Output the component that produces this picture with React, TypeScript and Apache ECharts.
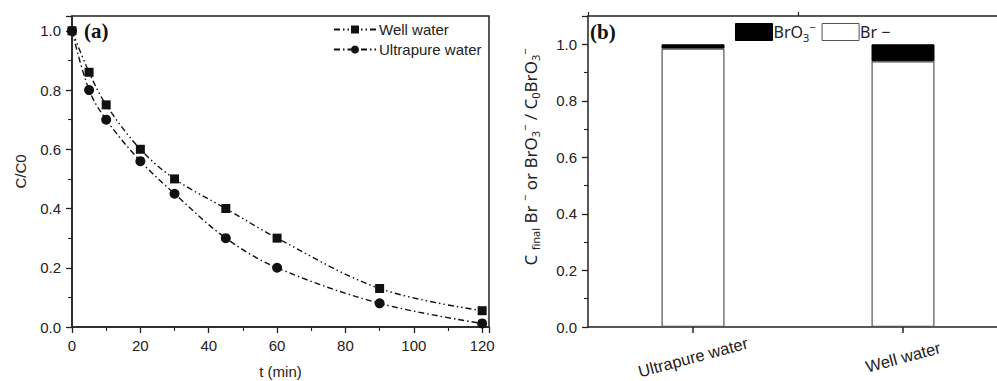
import React, { useEffect, useRef } from "react";
import * as echarts from "echarts";

const timeMin = [0, 5, 10, 20, 30, 45, 60, 90, 120];
const wellWater = [1.0, 0.86, 0.75, 0.6, 0.5, 0.4, 0.3, 0.13, 0.055];
const ultrapureWater = [1.0, 0.8, 0.7, 0.56, 0.45, 0.3, 0.2, 0.08, 0.012];

const waterTypes = ["Ultrapure water", "Well water"];
const brFraction = [0.985, 0.94];
const bro3Fraction = [0.015, 0.06];

const AX = "#222";
const FONT = "Liberation Sans";

export default function App() {
  const ref = useRef<HTMLDivElement>(null);
  useEffect(() => {
    if (!ref.current) return;
    const chart = echarts.init(ref.current, undefined, { renderer: "svg" });
    const axisCommon = {
      axisLine: { show: true, lineStyle: { color: AX, width: 1.5 } },
      axisTick: { show: true, inside: false, length: 6, lineStyle: { color: AX, width: 1.3 } },
      minorTick: { show: true, splitNumber: 2, length: 4, lineStyle: { color: AX, width: 1.1 } },
      splitLine: { show: false },
      minorSplitLine: { show: false },
    };
    const sub = { fontSize: 11, lineHeight: 12, verticalAlign: "bottom", fontFamily: "Noto Sans", color: "#222" };
    const sup = { fontSize: 11, lineHeight: 12, verticalAlign: "top", fontFamily: "Noto Sans", color: "#222" };
    const base = { fontSize: 16, lineHeight: 22, fontFamily: "Noto Sans", color: "#222" };
    const pair = (xs: number[], ys: number[]) => xs.map((x, i) => [x, ys[i]]);
    const tickFmt = (v: number) => (Math.abs(Math.round(v * 5) - v * 5) < 1e-6 ? v.toFixed(1) : "");
    const labelStyle = { fontFamily: FONT, fontSize: 15, color: "#222" };
    const option: any = {
      animation: false,
      backgroundColor: "#fff",
      grid: [
        { left: 72, top: 16, width: 417, height: 311, show: true, borderColor: AX, borderWidth: 1.5, backgroundColor: "transparent", outerBoundsMode: "none", containLabel: false },
        { left: 588, top: 16, width: 420, height: 311, show: false, outerBoundsMode: "none", containLabel: false },
      ],
      legend: [
        {
          data: ["Well water", "Ultrapure water"],
          orient: "vertical",
          left: 333,
          top: 22,
          padding: 0,
          itemWidth: 42,
          itemHeight: 10,
          itemGap: 5,
          textStyle: { ...labelStyle, padding: [0, 0, 0, -2] },
        },
        {
          data: [
            { name: "BrO3-", icon: "rect", itemStyle: { color: "#000", borderColor: "#000", borderWidth: 1 } },
            { name: "Br-", icon: "rect", itemStyle: { color: "#fff", borderColor: "#555", borderWidth: 1 } },
          ],
          orient: "horizontal",
          left: 735,
          top: 21,
          padding: 0,
          itemWidth: 37,
          itemHeight: 17,
          itemGap: 6,
          formatter: (name: string) => (name === "BrO3-" ? "{b|BrO}{s|3}{p|−}" : "{b|Br −}"),
          textStyle: {
            padding: [0, 0, 0, -4],
            rich: { b: base, s: sub, p: sup },
          },
        },
      ],
      xAxis: [
        {
          type: "value",
          gridIndex: 0,
          min: 0,
          max: 122,
          interval: 20,
          ...axisCommon,
          axisLabel: {
            ...labelStyle,
            margin: 11,
            showMaxLabel: false,
            formatter: (v: number) => (v % 20 === 0 ? String(v) : ""),
          },
          name: "t (min)",
          nameLocation: "middle",
          nameGap: 37,
          nameTextStyle: labelStyle,
        },
        {
          type: "category",
          gridIndex: 1,
          data: waterTypes,
          axisLine: { show: true, lineStyle: { color: AX, width: 1.5 } },
          axisTick: { show: true, alignWithLabel: true, length: 6, lineStyle: { color: AX, width: 1.5 } },
          axisLabel: {
            ...labelStyle,
            fontSize: 16.5,
            rotate: 15,
            align: "center",
            verticalAlign: "middle",
            margin: 30,
          },
          splitLine: { show: false },
        },
        {
          type: "category",
          gridIndex: 1,
          data: waterTypes,
          axisLine: { show: false },
          axisTick: { show: true, alignWithLabel: false, length: 4, lineStyle: { color: AX, width: 1.2 } },
          axisLabel: { show: false },
          splitLine: { show: false },
        },
        {
          type: "category",
          gridIndex: 1,
          position: "top",
          data: waterTypes,
          axisLine: { show: true, lineStyle: { color: AX, width: 1.5 } },
          axisTick: { show: false },
          axisLabel: { show: false },
          splitLine: { show: false },
        },
      ],
      yAxis: [
        {
          type: "value",
          gridIndex: 0,
          min: 0,
          max: 1.05,
          interval: 0.2,
          ...axisCommon,
          axisLabel: { ...labelStyle, margin: 11, showMaxLabel: false, formatter: tickFmt },
          name: "C/C0",
          nameLocation: "middle",
          nameRotate: 90,
          nameGap: 44,
          nameTextStyle: labelStyle,
        },
        {
          type: "value",
          gridIndex: 1,
          min: 0,
          max: 1.1,
          interval: 0.2,
          ...axisCommon,
          axisLabel: { ...labelStyle, margin: 11, showMaxLabel: false, formatter: tickFmt },
        },
      ],
      series: [
        {
          name: "Well water",
          type: "line",
          xAxisIndex: 0,
          yAxisIndex: 0,
          data: pair(timeMin, wellWater),
          smooth: 0.35,
          symbol: "rect",
          symbolSize: 9,
          itemStyle: { color: "#111" },
          lineStyle: { color: "#111", width: 1.4, type: [6, 3, 1.5, 3, 1.5, 3] },
        },
        {
          name: "Ultrapure water",
          type: "line",
          xAxisIndex: 0,
          yAxisIndex: 0,
          data: pair(timeMin, ultrapureWater),
          smooth: 0.35,
          symbol: "circle",
          symbolSize: 10,
          itemStyle: { color: "#111" },
          lineStyle: { color: "#111", width: 1.4, type: [6, 3, 1.5, 3] },
        },
        {
          name: "Br-",
          type: "bar",
          xAxisIndex: 1,
          yAxisIndex: 1,
          stack: "total",
          barWidth: 63,
          data: brFraction,
          itemStyle: { color: "#fff", borderColor: "#555", borderWidth: 1.2 },
        },
        {
          name: "BrO3-",
          type: "bar",
          xAxisIndex: 1,
          yAxisIndex: 1,
          stack: "total",
          barWidth: 63,
          data: bro3Fraction,
          itemStyle: { color: "#000", borderColor: "#000", borderWidth: 1 },
        },
      ],
      graphic: [
        {
          type: "text",
          left: 84,
          top: 20,
          style: { text: "(a)", font: "bold 21px 'Liberation Serif', serif", fill: "#111" },
        },
        {
          type: "text",
          left: 590,
          top: 21,
          style: { text: "(b)", font: "bold 21px 'Liberation Serif', serif", fill: "#111" },
        },
        {
          type: "text",
          x: 530,
          y: 157,
          rotation: Math.PI / 2,
          style: {
            text: "C {s|final} Br {p|−} or BrO{s|3}{p|−} / C{s|0}BrO{s|3}{p|−}",
            align: "center",
            verticalAlign: "middle",
            fontSize: 17,
            fontFamily: "Noto Sans",
            lineHeight: 22,
            fill: "#222",
            rich: { s: sub, p: sup },
          },
        },
      ],
    };
    chart.setOption(option);
    return () => chart.dispose();
  }, []);
  return (
    <div
      ref={ref}
      style={{ position: "fixed", left: 0, top: 0, width: 997, height: 381, background: "#fff" }}
    />
  );
}
